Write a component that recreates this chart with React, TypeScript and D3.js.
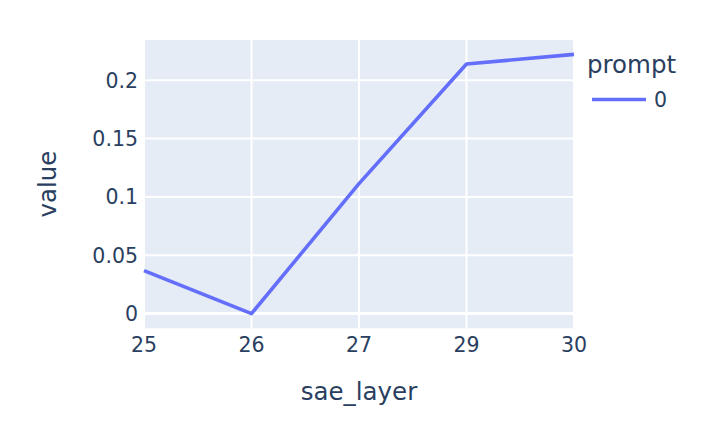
import * as d3 from "d3";
import { useEffect, useRef } from "react";

const layers = ["25", "26", "27", "29", "30"];
const values = [0.0369, 0.0, 0.1114, 0.2139, 0.2222];
const yTicks = [0, 0.05, 0.1, 0.15, 0.2];
const seriesName = "0";

const W = 718;
const H = 424;

const App = () => {
  const ref = useRef<SVGSVGElement>(null);

  useEffect(() => {
    const svg = d3.select(ref.current);
    svg.selectAll("*").remove();

    const margin = { top: 40, right: 144, bottom: 96, left: 144 };
    const innerW = W - margin.left - margin.right;
    const font = "'DejaVu Sans', Verdana, sans-serif";
    const textColor = "#2a3f5f";

    // categorical x axis, points evenly spaced
    const x = d3
      .scalePoint()
      .domain(layers)
      .range([margin.left, margin.left + innerW]);

    const y = d3
      .scaleLinear()
      .domain([-0.0126, 0.2345])
      .range([H - margin.bottom + 0.3, margin.top]);

    svg
      .append("rect")
      .attr("x", margin.left)
      .attr("y", margin.top)
      .attr("width", innerW)
      .attr("height", y.range()[0] - margin.top)
      .attr("fill", "#E5ECF6");

    // gridlines
    svg
      .append("g")
      .selectAll("line")
      .data(layers)
      .enter()
      .append("line")
      .attr("x1", (d) => x(d)!)
      .attr("x2", (d) => x(d)!)
      .attr("y1", margin.top)
      .attr("y2", y.range()[0])
      .attr("stroke", "white")
      .attr("stroke-width", 2);

    svg
      .append("g")
      .selectAll("line")
      .data(yTicks)
      .enter()
      .append("line")
      .attr("x1", margin.left)
      .attr("x2", margin.left + innerW)
      .attr("y1", (d) => y(d))
      .attr("y2", (d) => y(d))
      .attr("stroke", "white")
      .attr("stroke-width", d => (d === 0 ? 3 : 2));

    // tick labels
    svg
      .append("g")
      .selectAll("text")
      .data(yTicks)
      .enter()
      .append("text")
      .attr("x", margin.left - 6)
      .attr("y", (d) => y(d))
      .attr("dy", "0.36em")
      .attr("text-anchor", "end")
      .attr("font-family", font)
      .attr("font-size", 20.5)
      .attr("fill", textColor)
      .text((d) => d3.format("~g")(d));

    svg
      .append("g")
      .selectAll("text")
      .data(layers)
      .enter()
      .append("text")
      .attr("x", (d) => x(d)!)
      .attr("y", 352)
      .attr("text-anchor", "middle")
      .attr("font-family", font)
      .attr("font-size", 20.5)
      .attr("fill", textColor)
      .text((d) => d);

    // axis titles
    svg
      .append("text")
      .attr("x", margin.left + innerW / 2)
      .attr("y", 400)
      .attr("text-anchor", "middle")
      .attr("font-family", font)
      .attr("font-size", 24.5)
      .attr("fill", textColor)
      .text("sae_layer");

    svg
      .append("text")
      .attr("transform", `translate(56,${(margin.top + y.range()[0]) / 2}) rotate(-90)`)
      .attr("text-anchor", "middle")
      .attr("font-family", font)
      .attr("font-size", 24.5)
      .attr("fill", textColor)
      .text("value");

    // the line
    const line = d3
      .line<number>()
      .x((_, i) => x(layers[i])!)
      .y((d) => y(d));

    svg
      .append("path")
      .datum(values)
      .attr("d", line)
      .attr("fill", "none")
      .attr("stroke", "#636efa")
      .attr("stroke-width", 3.6)
      .attr("stroke-linejoin", "round");

    // legend
    const lg = svg.append("g").attr("transform", `translate(587,0)`);
    lg.append("text")
      .attr("x", 0)
      .attr("y", 73)
      .attr("font-family", font)
      .attr("font-size", 24.5)
      .attr("fill", textColor)
      .text("prompt");
    lg.append("line")
      .attr("x1", 5)
      .attr("x2", 59)
      .attr("y1", 99.5)
      .attr("y2", 99.5)
      .attr("stroke", "#636efa")
      .attr("stroke-width", 3.6);
    lg.append("text")
      .attr("x", 67)
      .attr("y", 99.5)
      .attr("dy", "0.36em")
      .attr("font-family", font)
      .attr("font-size", 20.5)
      .attr("fill", textColor)
      .text(seriesName);
  }, []);

  return (
    <svg
      ref={ref}
      width={W}
      height={H}
      style={{ display: "block", position: "absolute", left: 0, top: 0, background: "white" }}
    />
  );
};

export default App;
